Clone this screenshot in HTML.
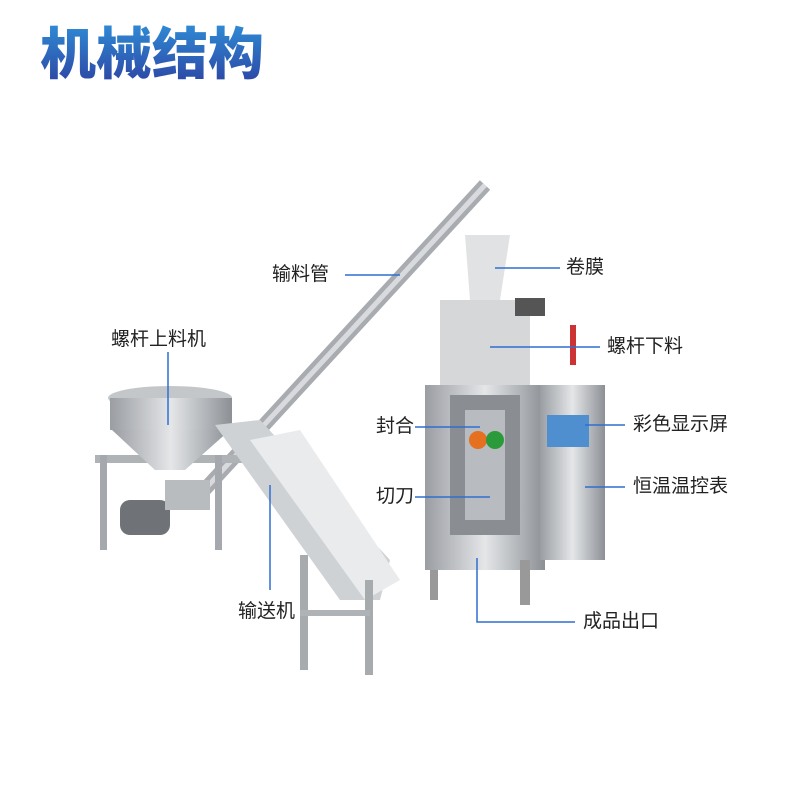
<!DOCTYPE html>
<html><head><meta charset="utf-8"><style>
body{margin:0;width:800px;height:800px;background:#fff;position:relative;overflow:hidden;font-family:"Liberation Sans","Noto Sans CJK SC",sans-serif}
.t{position:absolute;left:40px;top:20px;font-size:56px;font-weight:900;letter-spacing:0px;line-height:70px;background:linear-gradient(#2f8fd8,#2c3f9f);-webkit-background-clip:text;background-clip:text;color:transparent}
.l{position:absolute;font-size:19px;color:#222;line-height:22px;white-space:nowrap}
svg{position:absolute;left:0;top:0}
</style></head><body>
<div class="t">机械结构</div>
<svg width="800" height="800">
<defs><linearGradient id="m" x1="0" x2="1"><stop offset="0" stop-color="#9a9da2"/><stop offset=".5" stop-color="#e4e6e8"/><stop offset="1" stop-color="#8c9095"/></linearGradient></defs>
<line x1="195" y1="500" x2="485" y2="185" stroke="#a8abb0" stroke-width="14"/>
<line x1="195" y1="500" x2="485" y2="185" stroke="#d8dadd" stroke-width="5"/>
<rect x="95" y="455" width="150" height="8" fill="#b0b3b6"/>
<rect x="100" y="455" width="7" height="95" fill="#a5a8ac"/>
<rect x="215" y="455" width="7" height="95" fill="#a5a8ac"/>
<ellipse cx="170" cy="398" rx="62" ry="12" fill="#c4c7ca"/>
<rect x="110" y="398" width="122" height="32" fill="url(#m)"/>
<polygon points="112,430 230,430 185,470 155,470" fill="url(#m)"/>
<rect x="120" y="500" width="50" height="35" rx="10" fill="#6f7276"/>
<rect x="165" y="480" width="45" height="30" fill="#b9bcbf"/>
<polygon points="215,425 260,420 390,560 380,600 340,600" fill="#cfd2d5"/>
<polygon points="250,440 300,430 400,580 365,600" fill="#e9ebec"/>
<rect x="300" y="555" width="8" height="115" fill="#a8abae"/>
<rect x="365" y="580" width="8" height="95" fill="#a8abae"/>
<rect x="300" y="610" width="70" height="6" fill="#b0b3b6"/>
<rect x="425" y="385" width="120" height="185" fill="url(#m)"/>
<rect x="450" y="395" width="70" height="140" fill="#8a8d92"/>
<rect x="465" y="410" width="40" height="110" fill="#b8bbbf"/>
<rect x="540" y="385" width="65" height="175" fill="url(#m)"/>
<rect x="547" y="415" width="42" height="32" fill="#4f8fcf"/>
<rect x="440" y="300" width="90" height="85" fill="#d5d7d9"/>
<polygon points="465,235 510,235 500,300 470,300" fill="#e0e2e4"/>
<rect x="515" y="298" width="30" height="18" fill="#555"/>
<rect x="570" y="325" width="6" height="40" fill="#c33"/>
<rect x="430" y="570" width="8" height="30" fill="#999"/>
<rect x="520" y="560" width="10" height="45" fill="#999"/>
<circle cx="478" cy="440" r="9" fill="#e57020"/>
<circle cx="495" cy="440" r="9" fill="#2a9a3a"/>
<g stroke="#2f6fd0" stroke-width="1.5" fill="none">
<line x1="345" y1="275" x2="400" y2="275"/>
<line x1="495" y1="268" x2="560" y2="268"/>
<line x1="168" y1="352" x2="168" y2="425"/>
<line x1="490" y1="347" x2="600" y2="347"/>
<line x1="415" y1="427" x2="480" y2="427"/>
<line x1="585" y1="425" x2="625" y2="425"/>
<line x1="415" y1="497" x2="490" y2="497"/>
<line x1="585" y1="487" x2="625" y2="487"/>
<line x1="270" y1="485" x2="270" y2="590"/>
<polyline points="477,558 477,622 575,622"/>
</g>
</svg>
<div class="l" style="left:272px;top:264px">输料管</div>
<div class="l" style="left:566px;top:257px">卷膜</div>
<div class="l" style="left:111px;top:329px">螺杆上料机</div>
<div class="l" style="left:607px;top:336px">螺杆下料</div>
<div class="l" style="left:376px;top:416px">封合</div>
<div class="l" style="left:633px;top:414px">彩色显示屏</div>
<div class="l" style="left:376px;top:486px">切刀</div>
<div class="l" style="left:633px;top:476px">恒温温控表</div>
<div class="l" style="left:238px;top:601px">输送机</div>
<div class="l" style="left:583px;top:611px">成品出口</div>
</body></html>
